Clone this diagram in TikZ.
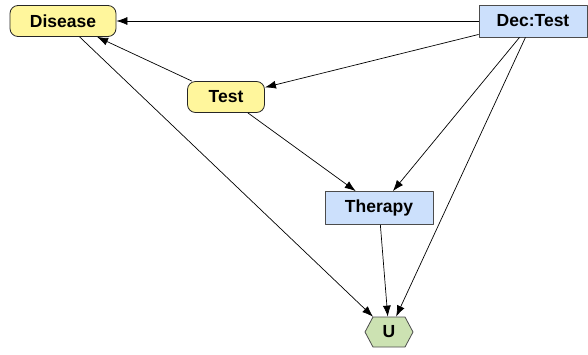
\documentclass[tikz,border=0pt]{standalone}
\usepackage{fontspec}
\setmainfont{Liberation Sans}
\usetikzlibrary{arrows.meta,shapes.symbols}
\definecolor{chance}{RGB}{255,246,156}
\definecolor{decision}{RGB}{204,224,252}
\definecolor{utility}{RGB}{204,226,178}
\begin{document}
\begin{tikzpicture}[x=1pt, y=-1pt, font=\fontsize{17.5}{19}\selectfont\bfseries, line join=round, >={Latex[length=11pt,width=8pt]},
		chancenode/.style={draw=black!85, fill=chance, rounded corners=8pt, minimum height=31pt, inner sep=0pt, line width=0.8pt},
		decnode/.style={draw=black!70, fill=decision, minimum height=32pt, inner sep=0pt, line width=0.8pt},
		utilnode/.style={draw=black!70, fill=utility, signal, signal to=west and east, signal pointer angle=124, minimum width=48pt, minimum height=30pt, inner sep=0pt, line width=0.8pt},
		link/.style={->, line width=0.7pt}]
	\useasboundingbox (0,0) rectangle (588,354);
	\node[chancenode, minimum width=106pt] (disease) at (63,21) {Disease};
	\node[chancenode, minimum width=77pt] (test) at (226,97) {Test};
	\node[decnode, minimum width=108pt] (dectest) at (533,21) {Dec:Test};
	\node[decnode, minimum width=108pt, minimum height=33pt] (therapy) at (379,208) {Therapy};
	\node[utilnode] (u) at (389,332) {U};
	\draw[link] (dectest) -- (disease);
	\draw[link] (dectest) -- (test);
	\draw[link] (test) -- (disease);
	\draw[link] (dectest) -- (therapy);
	\draw[link] (dectest) -- (u);
	\draw[link] (test) -- (therapy);
	\draw[link] (disease) -- (u);
	\draw[link] (therapy) -- (u);
\end{tikzpicture}
\end{document}
